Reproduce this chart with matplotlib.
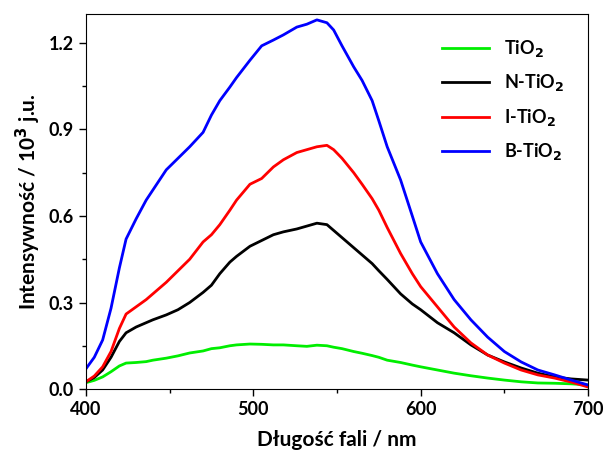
import numpy as np
import matplotlib.pyplot as plt
from matplotlib.ticker import MultipleLocator

plt.rcParams['font.family'] = ['Lato', 'DejaVu Sans']
plt.rcParams['font.weight'] = 'bold'

# wavelength grid (nm)
wl = [400, 405, 410, 415, 420, 424, 430, 436, 440, 448, 455, 462, 470,
      475, 480, 486, 490, 498, 505, 512, 518, 526, 532, 538, 544, 548,
      553, 560, 565, 571, 575, 580, 588, 595, 600, 610, 620, 630, 640,
      650, 660, 670, 680, 690, 700]

tio2 = [0.022, 0.03, 0.042, 0.06, 0.08, 0.09, 0.092, 0.095, 0.10, 0.107,
        0.115, 0.125, 0.132, 0.14, 0.143, 0.15, 0.153, 0.156, 0.155,
        0.153, 0.153, 0.15, 0.148, 0.152, 0.15, 0.145, 0.14, 0.13, 0.124,
        0.116, 0.11, 0.10, 0.092, 0.083, 0.077, 0.066, 0.055, 0.046,
        0.038, 0.031, 0.025, 0.021, 0.02, 0.018, 0.014]
n_tio2 = [0.025, 0.04, 0.066, 0.11, 0.165, 0.195, 0.215, 0.23, 0.24,
          0.257, 0.275, 0.30, 0.335, 0.36, 0.40, 0.44, 0.46, 0.495, 0.515,
          0.535, 0.545, 0.555, 0.565, 0.575, 0.57, 0.55, 0.525, 0.49,
          0.465, 0.435, 0.41, 0.38, 0.33, 0.295, 0.275, 0.23, 0.195,
          0.153, 0.118, 0.094, 0.073, 0.055, 0.042, 0.035, 0.031]
i_tio2 = [0.025, 0.045, 0.077, 0.13, 0.21, 0.26, 0.285, 0.31, 0.33, 0.37,
          0.41, 0.45, 0.51, 0.535, 0.57, 0.62, 0.655, 0.71, 0.73, 0.77,
          0.795, 0.82, 0.83, 0.84, 0.845, 0.83, 0.80, 0.75, 0.71, 0.66,
          0.62, 0.56, 0.47, 0.40, 0.355, 0.285, 0.215, 0.16, 0.118, 0.09,
          0.066, 0.049, 0.038, 0.024, 0.007]
b_tio2 = [0.07, 0.11, 0.17, 0.28, 0.42, 0.52, 0.59, 0.655, 0.69, 0.76,
          0.80, 0.84, 0.89, 0.95, 1.0, 1.047, 1.08, 1.14, 1.19, 1.21,
          1.228, 1.255, 1.265, 1.28, 1.27, 1.245, 1.19, 1.117, 1.07, 1.0,
          0.93, 0.84, 0.725, 0.60, 0.51, 0.40, 0.31, 0.24, 0.18, 0.13,
          0.094, 0.066, 0.049, 0.031, 0.014]

labels = ['TiO$_2$', 'N-TiO$_2$', 'I-TiO$_2$', 'B-TiO$_2$']
colors = ['#00ee00', 'black', 'red', 'blue']

fig = plt.figure(figsize=(6.05, 4.55), dpi=100)
ax = fig.add_axes([0.142, 0.145, 0.830, 0.824])

for ys, lab, c in zip([tio2, n_tio2, i_tio2, b_tio2], labels, colors):
    ax.plot(wl, ys, color=c, lw=2, label=lab)

ax.set_xlim(400, 700)
ax.set_ylim(0, 1.3)
ax.xaxis.set_major_locator(MultipleLocator(100))
ax.xaxis.set_minor_locator(MultipleLocator(50))
ax.yaxis.set_major_locator(MultipleLocator(0.3))
ax.yaxis.set_minor_locator(MultipleLocator(0.15))
ax.yaxis.set_major_formatter(plt.FormatStrFormatter('%.1f'))
ax.tick_params(which='major', length=5, width=1, labelsize=13)
ax.tick_params(which='minor', length=3, width=1)
for lab in ax.get_xticklabels() + ax.get_yticklabels():
    lab.set_fontweight('bold')

ax.set_xlabel('Długość fali / nm', fontsize=15, fontweight='bold', labelpad=9)
ax.set_ylabel('Intensywność / 10$^3$ j.u.', fontsize=15, fontweight='bold')

leg = ax.legend(loc='upper right', frameon=False, fontsize=13,
                handlelength=2.6, labelspacing=0.75,
                bbox_to_anchor=(0.985, 0.98))
for t in leg.get_texts():
    t.set_fontweight('bold')

fig.savefig('out.png', dpi=100)
